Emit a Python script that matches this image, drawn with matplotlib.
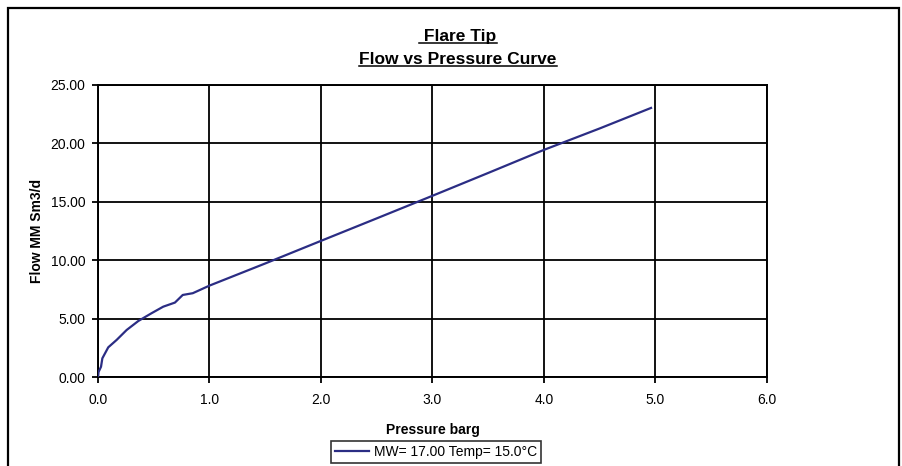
import matplotlib
matplotlib.use("Agg")
import matplotlib.pyplot as plt
from matplotlib.patches import Rectangle
from matplotlib.lines import Line2D

plt.rcParams['font.family'] = ['Liberation Sans', 'DejaVu Sans']

pressure = [0.0, 0.005, 0.027, 0.039, 0.092, 0.167, 0.257, 0.362, 0.48, 0.585,
            0.69, 0.76, 0.85, 1.0, 1.5, 2.0, 2.5, 3.0, 3.5, 4.0, 4.5, 4.96]
flow = [0.0, 0.45, 0.9, 1.62, 2.56, 3.19, 4.04, 4.81, 5.47, 6.03,
        6.38, 7.03, 7.18, 7.83, 9.72, 11.65, 13.57, 15.5, 17.45, 19.42, 21.25, 23.0]

x_ticks = [0.0, 1.0, 2.0, 3.0, 4.0, 5.0, 6.0]
y_ticks = [0.0, 5.0, 10.0, 15.0, 20.0, 25.0]
title_lines = [" Flare Tip", "Flow vs Pressure Curve"]
x_label = "Pressure barg"
y_label = "Flow MM Sm3/d"
series_label = "MW= 17.00 Temp= 15.0°C"

W, H = 903, 466
fig = plt.figure(figsize=(W / 100, H / 100), dpi=100)
fig.patch.set_facecolor('white')

# outer chart border
fig.patches.append(Rectangle((8 / W, -0.05), (899 - 8) / W, 1 - 8 / H + 0.05,
                             transform=fig.transFigure, fill=False,
                             edgecolor='black', linewidth=1.6, zorder=0))

ax = fig.add_axes([98 / W, 1 - 377.3 / H, (767 - 98) / W, (377.3 - 84.5) / H])
ax.plot(pressure, flow, color='#2B2D84', linewidth=1.6, zorder=3)
ax.set_xlim(0, 6)
ax.set_ylim(0, 25)
ax.set_xticks(x_ticks)
ax.set_yticks(y_ticks)
ax.set_xticklabels([f"{v:.1f}" for v in x_ticks])
ax.set_yticklabels([f"{v:.2f}" for v in y_ticks])
ax.grid(True, color='black', linewidth=1.3)
for s in ax.spines.values():
    s.set_linewidth(1.4)
    s.set_color('black')
ax.tick_params(direction='out', length=4, width=1.3, labelsize=10, colors='black')
ax.tick_params(axis='y', pad=5)
ax.tick_params(axis='x', pad=7)
ax.set_xlabel(x_label, fontsize=10, fontweight='bold', labelpad=12)
ax.set_ylabel(y_label, fontsize=10, fontweight='bold')
ax.yaxis.set_label_coords((44 - 98) / (767 - 98), 0.5)

# titles with underline
renderer = fig.canvas.get_renderer()
title_y = [1 - 36 / H, 1 - 60 / H]
for t, yy in zip(title_lines, title_y):
    txt = fig.text(458 / W, yy, t, ha='center', va='center', fontsize=12.5,
                   fontweight='bold')
    bb = txt.get_window_extent(renderer=renderer)
    uy = (bb.y0 + 1) / H
    fig.add_artist(Line2D([bb.x0 / W, bb.x1 / W], [uy, uy], color='black',
                          linewidth=1.1, transform=fig.transFigure))

# legend
handle = Line2D([], [], color='#2B2D84', linewidth=1.6)
leg = fig.legend([handle], [series_label], loc='center',
                 bbox_to_anchor=(436 / W, 1 - 452 / H), frameon=True,
                 fancybox=False, edgecolor='black', fontsize=10,
                 handlelength=2.4, handletextpad=0.35, borderpad=0.3,
                 borderaxespad=0)
leg.get_frame().set_linewidth(1.2)

fig.savefig('out.png', dpi=100, facecolor='white')
